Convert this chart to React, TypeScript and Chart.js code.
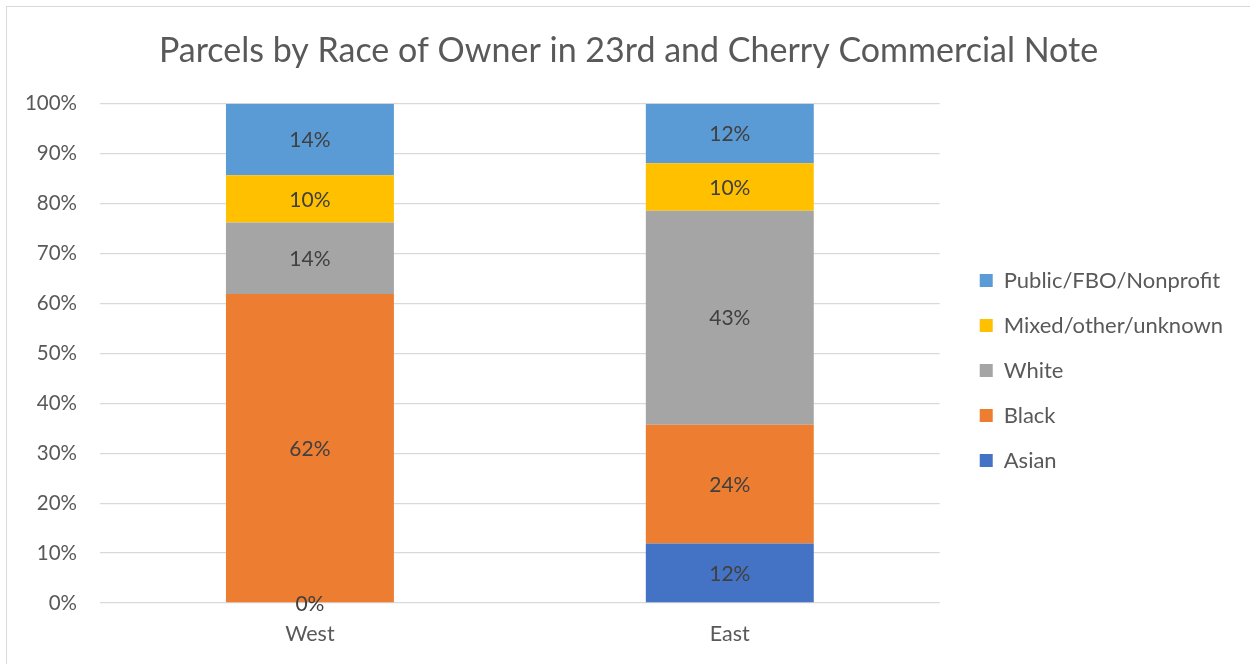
import React, { useEffect, useRef } from "react";
import { Chart, registerables } from "chart.js";

Chart.register(...registerables);

const FONT = "Lato, 'Noto Sans', sans-serif";

const categories = ["West", "East"];
const seriesNames = ["Asian", "Black", "White", "Mixed/other/unknown", "Public/FBO/Nonprofit"];
const asian = [0, 11.9];
const black = [61.9, 23.8];
const white = [14.3, 42.9];
const mixed = [9.5, 9.5];
const publicFbo = [14.3, 11.9];
const seriesColors = ["#4472C4", "#ED7D31", "#A5A5A5", "#FFC000", "#5B9BD5"];
const titleText = "Parcels by Race of Owner in 23rd and Cherry Commercial Note";

const dataLabels = {
  id: "dataLabels",
  afterDatasetsDraw(chart: any) {
    const ctx = chart.ctx;
    ctx.save();
    ctx.font = `21px ${FONT}`;
    ctx.fillStyle = "#404040";
    ctx.textAlign = "center";
    ctx.textBaseline = "middle";
    chart.data.datasets.forEach((ds: any, i: number) => {
      const meta = chart.getDatasetMeta(i);
      meta.data.forEach((el: any, j: number) => {
        const v = ds.data[j];
        const p = el.getProps(["x", "y", "base"], true);
        ctx.fillText(Math.round(v) + "%", p.x, (p.y + p.base) / 2 + 1);
      });
    });
    ctx.restore();
  },
};

export default function App() {
  const ref = useRef<HTMLCanvasElement>(null);
  useEffect(() => {
    if (!ref.current) return;
    const allSeries = [asian, black, white, mixed, publicFbo];
    const chart = new Chart(ref.current, {
      type: "bar",
      data: {
        labels: categories,
        datasets: allSeries.map((d, i) => ({
          label: seriesNames[i],
          data: d,
          backgroundColor: seriesColors[i],
          borderWidth: 0,
          barPercentage: 0.4,
          categoryPercentage: 1,
        })),
      },
      options: {
        responsive: false,
        animation: false,
        devicePixelRatio: 1,
        layout: { padding: { left: 17, right: 17, top: 0, bottom: 0 } },
        plugins: {
          title: {
            display: true,
            text: titleText,
            color: "#595959",
            font: { family: FONT, size: 34, weight: "normal" },
            padding: { top: 24, bottom: 32 },
          },
          legend: {
            position: "right",
            reverse: true,
            title: { display: true, text: " ", font: { size: 1 }, padding: { top: 69, bottom: 0 } },
            labels: {
              boxWidth: 13,
              boxHeight: 13,
              padding: 23,
              color: "#595959",
              font: { family: FONT, size: 22 },
            },
          },
          tooltip: { enabled: false },
        },
        scales: {
          x: {
            stacked: true,
            grid: { display: false, drawTicks: false },
            border: { display: false },
            ticks: { color: "#595959", font: { family: FONT, size: 21.5 }, padding: 18 },
            afterFit: (s: any) => { s.height = 61; },
          },
          y: {
            stacked: true,
            min: 0,
            max: 100,
            grid: { color: "#d9d9d9", lineWidth: 1.3, drawTicks: false },
            border: { display: false },
            ticks: {
              stepSize: 10,
              color: "#595959",
              font: { family: FONT, size: 20.5 },
              padding: 23,
              callback: (v: any) => v + "%",
            },
            afterFit: (s: any) => { s.width = 76; },
          },
          spacer: {
            type: "linear",
            position: "right",
            display: false,
            afterFit: (s: any) => { s.width = 17; },
          },
        },
      },
      plugins: [dataLabels],
    });
    return () => chart.destroy();
  }, []);

  return (
    <div style={{ position: "fixed", left: 0, top: 0, width: "100vw", height: "100vh", overflow: "hidden", background: "#fff" }}>
      <div
        style={{
          position: "absolute",
          left: 6,
          top: 6,
          width: 1250,
          height: 664,
          border: "1px solid #d9d9d9",
          boxSizing: "border-box",
          background: "#fff",
        }}
      >
        <canvas ref={ref} width={1243} height={657} style={{ display: "block", width: 1243, height: 657 }} />
      </div>
    </div>
  );
}
